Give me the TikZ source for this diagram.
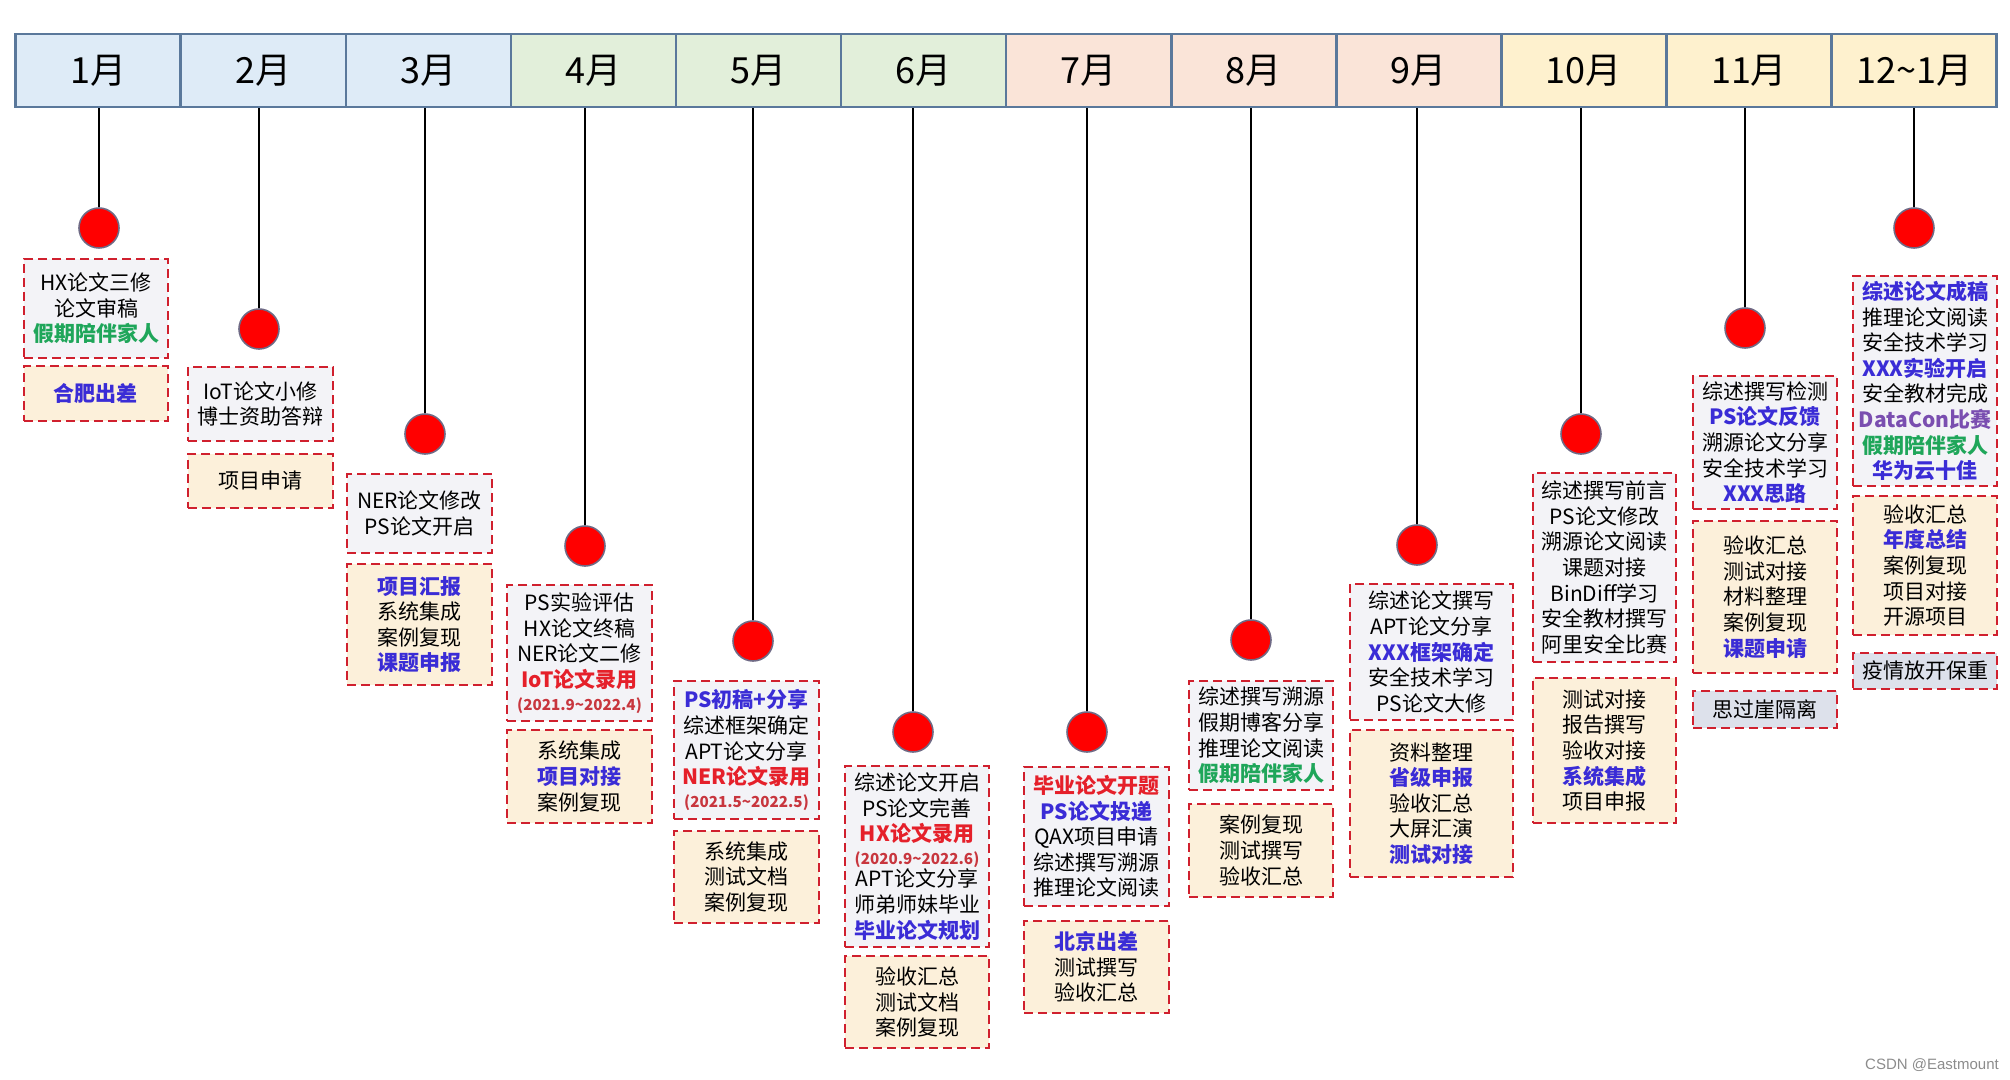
\documentclass[tikz,border=0pt]{standalone}
\usepackage{fontspec}
\setmainfont{Noto Sans CJK SC}
\newfontfamily\wmfont{Liberation Sans}
\usepackage{xcolor}
\usepackage{tikz}

\definecolor{monline}{HTML}{5A789B}
\definecolor{mblue}{HTML}{DEEBF7}
\definecolor{mgreen}{HTML}{E2EFDA}
\definecolor{mpeach}{HTML}{FAE4D8}
\definecolor{myellow}{HTML}{FEF1CE}
\definecolor{boxred}{HTML}{D0202E}
\definecolor{paperbg}{HTML}{F3F3F7}
\definecolor{projbg}{HTML}{FCF0DA}
\definecolor{notebg}{HTML}{DDE1EB}
\definecolor{dotred}{HTML}{FF0000}
\definecolor{dotline}{HTML}{6F6A85}
\definecolor{hlblue}{HTML}{3A2CD6}
\definecolor{hlred}{HTML}{E5202A}
\definecolor{hldate}{HTML}{C8363E}
\definecolor{hlgreen}{HTML}{1FA65A}
\definecolor{hlpurple}{HTML}{7A4EB0}

\newcommand\tblue[1]{{\bfseries\color{hlblue}#1}}
\newcommand\tred[1]{{\bfseries\color{hlred}#1}}
\newcommand\tgreen[1]{{\bfseries\color{hlgreen}#1}}
\newcommand\tpurple[1]{{\bfseries\color{hlpurple}#1}}
\newcommand\tdate[1]{{\bfseries\fontsize{7.6}{9}\selectfont\color{hldate}#1}}

\begin{document}
\begin{tikzpicture}[
  x=0.5pt,y=-0.5pt,
  mon/.style  ={draw=monline,line width=1.3pt,minimum width=82.54pt,minimum height=36.5pt,inner sep=0pt,font=\fontsize{18}{20}\selectfont},
  dot/.style  ={circle,fill=dotred,draw=dotline,line width=0.8pt,minimum size=20pt,inner sep=0pt},
  stem/.style ={line width=0.65pt,black},
  paper/.style={draw=boxred,line width=1.4pt,dash pattern=on 4.5pt off 2.5pt,fill=paperbg,align=center,minimum width=72pt,inner sep=1pt,font=\fontsize{10.5}{12.8}\selectfont},
  proj/.style ={paper,fill=projbg},
  memo/.style ={paper,fill=notebg},
  wmtext/.style={text=black!45,font=\wmfont\fontsize{7.5}{9}\selectfont,inner sep=0pt}
]
\useasboundingbox (0,0) rectangle (2010,1080);
% month header
\node[mon,fill=mblue]   (m1)  at (98.2,70.5)   {1月};
\node[mon,fill=mblue]   (m2)  at (263.3,70.5)  {2月};
\node[mon,fill=mblue]   (m3)  at (428.4,70.5)  {3月};
\node[mon,fill=mgreen]  (m4)  at (593.5,70.5)  {4月};
\node[mon,fill=mgreen]  (m5)  at (758.5,70.5)  {5月};
\node[mon,fill=mgreen]  (m6)  at (923.6,70.5)  {6月};
\node[mon,fill=mpeach]  (m7)  at (1088.7,70.5) {7月};
\node[mon,fill=mpeach]  (m8)  at (1253.8,70.5) {8月};
\node[mon,fill=mpeach]  (m9)  at (1418.9,70.5) {9月};
\node[mon,fill=myellow] (m10) at (1583.9,70.5) {10月};
\node[mon,fill=myellow] (m11) at (1749.0,70.5) {11月};
\node[mon,fill=myellow] (m12) at (1914.1,70.5) {12\textasciitilde1月};
% milestones
\node[dot] (d1)  at (99,228)   {};
\node[dot] (d2)  at (259,329)  {};
\node[dot] (d3)  at (425,434)  {};
\node[dot] (d4)  at (585,546)  {};
\node[dot] (d5)  at (753,641)  {};
\node[dot] (d6)  at (913,732)  {};
\node[dot] (d7)  at (1087,732) {};
\node[dot] (d8)  at (1251,640) {};
\node[dot] (d9)  at (1417,545) {};
\node[dot] (d10) at (1581,434) {};
\node[dot] (d11) at (1745,328) {};
\node[dot] (d12) at (1914,228) {};
\draw[stem] (m1.south -| d1)   -- (d1.north);
\draw[stem] (m2.south -| d2)   -- (d2.north);
\draw[stem] (m3.south -| d3)   -- (d3.north);
\draw[stem] (m4.south -| d4)   -- (d4.north);
\draw[stem] (m5.south -| d5)   -- (d5.north);
\draw[stem] (m6.south -| d6)   -- (d6.north);
\draw[stem] (m7.south -| d7)   -- (d7.north);
\draw[stem] (m8.south -| d8)   -- (d8.north);
\draw[stem] (m9.south -| d9)   -- (d9.north);
\draw[stem] (m10.south -| d10) -- (d10.north);
\draw[stem] (m11.south -| d11) -- (d11.north);
\draw[stem] (m12.south -| d12) -- (d12.north);
% study / paper boxes
\node[paper,minimum height=49.5pt] (pap1) at (96,308.5) {HX论文三修\\论文审稿\\\tgreen{假期陪伴家人}};
\node[paper,minimum height=37pt,minimum width=72.5pt] (pap2) at (260.5,404) {IoT论文小修\\博士资助答辩};
\node[paper,minimum height=39.5pt,minimum width=72.5pt] (pap3) at (419.5,513.5) {NER论文修改\\PS论文开启};
\node[paper,minimum height=68pt,minimum width=72.5pt] (pap4) at (579.5,653) {PS实验评估\\HX论文终稿\\NER论文二修\\\tred{IoT论文录用}\\[-1.5pt]\tdate{(2021.9\textasciitilde2022.4)}};
\node[paper,minimum height=69pt,minimum width=72.5pt] (pap5) at (746.5,750) {\tblue{PS初稿+分享}\\综述框架确定\\APT论文分享\\\tred{NER论文录用}\\[-1.5pt]\tdate{(2021.5\textasciitilde2022.5)}};
\node[paper,minimum height=90.5pt] (pap6) at (917,856.5) {综述论文开启\\PS论文完善\\\tred{HX论文录用}\\[-1.5pt]\tdate{(2020.9\textasciitilde2022.6)}\\[-1.5pt]APT论文分享\\师弟师妹毕业\\\tblue{毕业论文规划}};
\node[paper,minimum height=69.5pt,minimum width=72.5pt] (pap7) at (1096.5,836.5) {\tred{毕业论文开题}\\\tblue{PS论文投递}\\QAX项目申请\\综述撰写溯源\\推理论文阅读};
\node[paper,minimum height=54.5pt] (pap8) at (1261,735.5) {综述撰写溯源\\假期博客分享\\推理论文阅读\\\tgreen{假期陪伴家人}};
\node[paper,minimum height=68pt,minimum width=81.5pt] (pap9) at (1431.5,652) {综述论文撰写\\APT论文分享\\\tblue{XXX框架确定}\\安全技术学习\\PS论文大修};
\node[paper,minimum height=94.5pt,minimum width=71.5pt] (pap10) at (1604.5,567.5) {综述撰写前言\\PS论文修改\\溯源论文阅读\\课题对接\\BinDiff学习\\安全教材撰写\\阿里安全比赛};
\node[paper,minimum height=66.5pt] (pap11) at (1765,442.5) {综述撰写检测\\\tblue{PS论文反馈}\\溯源论文分享\\安全技术学习\\\tblue{XXX思路}};
\node[paper,minimum height=105pt] (pap12) at (1925,381) {\tblue{综述论文成稿}\\推理论文阅读\\安全技术学习\\\tblue{XXX实验开启}\\安全教材完成\\\tpurple{DataCon比赛}\\\tgreen{假期陪伴家人}\\\tblue{华为云十佳}};
% project boxes
\node[proj,minimum height=27.5pt] (prj1) at (96,393.5) {\tblue{合肥出差}};
\node[proj,minimum height=27pt,minimum width=72.5pt] (prj2) at (260.5,481) {项目申请};
\node[proj,minimum height=60.5pt,minimum width=72.5pt] (prj3) at (419.5,624.5) {\tblue{项目汇报}\\系统集成\\案例复现\\\tblue{课题申报}};
\node[proj,minimum height=46.5pt,minimum width=72.5pt] (prj4) at (579.5,776.5) {系统集成\\\tblue{项目对接}\\案例复现};
\node[proj,minimum height=46pt,minimum width=72.5pt] (prj5) at (746.5,877) {系统集成\\测试文档\\案例复现};
\node[proj,minimum height=46pt] (prj6) at (917,1002) {验收汇总\\测试文档\\案例复现};
\node[proj,minimum height=46pt,minimum width=72.5pt] (prj7) at (1096.5,967) {\tblue{北京出差}\\测试撰写\\验收汇总};
\node[proj,minimum height=46.5pt] (prj8) at (1261,850.5) {案例复现\\测试撰写\\验收汇总};
\node[proj,minimum height=73.5pt,minimum width=81.5pt] (prj9) at (1431.5,803.5) {资料整理\\\tblue{省级申报}\\验收汇总\\大屏汇演\\\tblue{测试对接}};
\node[proj,minimum height=72.5pt,minimum width=71.5pt] (prj10) at (1604.5,750.5) {测试对接\\报告撰写\\验收对接\\\tblue{系统集成}\\项目申报};
\node[proj,minimum height=76pt] (prj11) at (1765,597) {验收汇总\\测试对接\\材料整理\\案例复现\\\tblue{课题申请}};
\node[proj,minimum height=69.5pt] (prj12) at (1925,565.5) {验收汇总\\\tblue{年度总结}\\案例复现\\项目对接\\开源项目};
% notes
\node[memo,minimum height=18.5pt] (memo11) at (1765,709.5) {思过崖隔离};
\node[memo,minimum height=18pt]   (memo12) at (1925,671)   {疫情放开保重};
\node[wmtext] (wm) at (1932,1065) {CSDN @Eastmount};
\end{tikzpicture}
\end{document}
